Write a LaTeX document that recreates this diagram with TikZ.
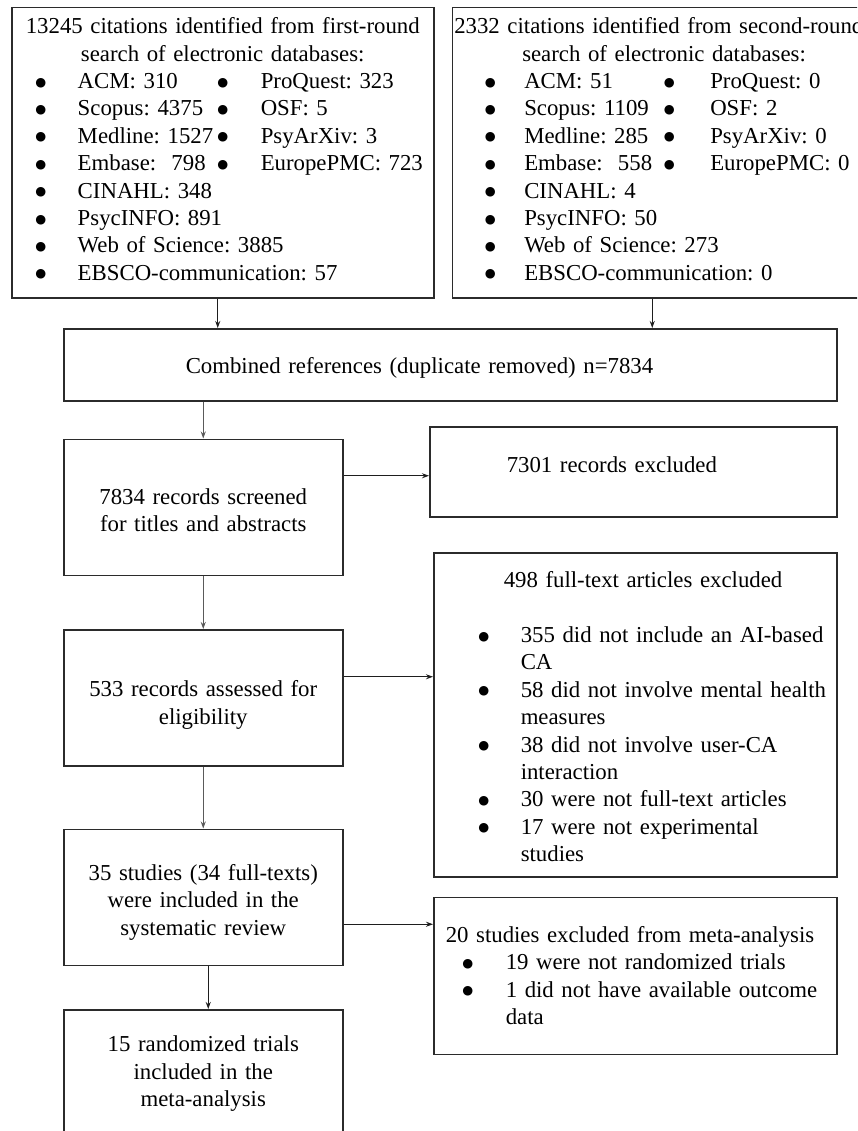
\documentclass[tikz,border=0pt]{standalone}
\usepackage{fontspec}
\setmainfont{Liberation Serif}
\newfontfamily\symfont{DejaVu Sans}
\usetikzlibrary{positioning,arrows.meta}
\definecolor{edge}{HTML}{2B2B2B}
\definecolor{lnk}{HTML}{1E1E1E}
\definecolor{lnkg}{HTML}{5A5A5A}
\frenchspacing
\newcommand{\setat}[2]{\leavevmode\rlap{\hspace*{#1}#2}}
\newcommand{\bulat}[1]{\leavevmode\rlap{\hspace*{#1}\makebox[0pt]{\raisebox{2.5pt}{\symfont\fontsize{12.5}{12.5}\selectfont ●}}}}
\tikzset{
  >={Stealth[length=7pt,width=5pt]},
  box/.style={draw=edge, line width=1.5pt, inner sep=0pt, align=left,
              font=\fontsize{22.8}{27.4}\selectfont},
  cbox/.style={box, align=center},
  l/.style={->, line width=0.9pt, draw=lnk},
  lg/.style={l, draw=lnkg},
}
\begin{document}
\begin{tikzpicture}[x=1pt,y=1pt]
  \useasboundingbox (0,0) rectangle (857,-1131);
  \clip (0,0) rectangle (857,-1131);
  % search rounds
  \node[box,text width=422pt,text height=26pt,text depth=264pt,anchor=north west] (first) at (11,-7) {%
    \makebox[\linewidth]{13245 citations identified from first-round}\\
    \makebox[\linewidth]{search of electronic databases:}\\
    \bulat{29pt}\setat{66pt}{ACM: 310}\bulat{211pt}\setat{249pt}{ProQuest: 323}\\
    \bulat{29pt}\setat{66pt}{Scopus: 4375}\bulat{211pt}\setat{249pt}{OSF: 5}\\
    \bulat{29pt}\setat{66pt}{Medline: 1527}\bulat{211pt}\setat{249pt}{PsyArXiv: 3}\\
    \bulat{29pt}\setat{66pt}{Embase:\ \ 798}\bulat{211pt}\setat{249pt}{EuropePMC: 723}\\
    \bulat{29pt}\setat{66pt}{CINAHL: 348}\\
    \bulat{29pt}\setat{66pt}{PsycINFO: 891}\\
    \bulat{29pt}\setat{66pt}{Web of Science: 3885}\\
    \bulat{29pt}\setat{66pt}{EBSCO-communication: 57}};
  \node[box,text width=422pt,text height=26pt,text depth=264pt,right=17pt of first.north east,anchor=north west] (second) {%
    \setat{2pt}{2332 citations identified from second-round}\\
    \setat{70pt}{search of electronic databases:}\\
    \bulat{38pt}\setat{72pt}{ACM: 51}\bulat{217pt}\setat{258pt}{ProQuest: 0}\\
    \bulat{38pt}\setat{72pt}{Scopus: 1109}\bulat{217pt}\setat{258pt}{OSF: 2}\\
    \bulat{38pt}\setat{72pt}{Medline: 285}\bulat{217pt}\setat{258pt}{PsyArXiv: 0}\\
    \bulat{38pt}\setat{72pt}{Embase:\ \ 558}\bulat{217pt}\setat{258pt}{EuropePMC: 0}\\
    \bulat{38pt}\setat{72pt}{CINAHL: 4}\\
    \bulat{38pt}\setat{72pt}{PsycINFO: 50}\\
    \bulat{38pt}\setat{72pt}{Web of Science: 273}\\
    \bulat{38pt}\setat{72pt}{EBSCO-communication: 0}};
  % main column
  \node[box,text width=773pt,text height=45pt,text depth=27pt,anchor=north west] (comb) at (63,-328)
    {\setat{122pt}{Combined references (duplicate removed) n=7834}};
  \node[cbox,text width=279pt,text height=65pt,text depth=71pt,below=37pt of comb.south west,anchor=north west] (scr)
    {7834 records screened\\for titles and abstracts};
  \node[cbox,text width=279pt,text height=67pt,text depth=69pt,below=53pt of scr] (elig)
    {533 records assessed for\\eligibility};
  \node[cbox,text width=279pt,text height=51pt,text depth=85pt,below=62pt of elig] (incl)
    {35 studies (34 full-texts)\\were included in the\\systematic review};
  \node[cbox,text width=279pt,text height=42pt,text depth=115pt,below=43pt of incl] (meta)
    {15 randomized trials\\included in the\\meta-analysis};
  % exclusions
  \node[box,text width=407pt,text height=46pt,text depth=44pt,anchor=north west] (ex1) at (429,-426)
    {\setat{77pt}{7301 records excluded}};
  \node[box,text width=403pt,text height=35pt,text depth=289pt,anchor=north west] (ex2) at (433,-552) {%
    \setat{70pt}{498 full-text articles excluded}\\[27.4pt]
    \bulat{50pt}\setat{87pt}{355 did not include an AI-based}\\
    \setat{87pt}{CA}\\
    \bulat{50pt}\setat{87pt}{58 did not involve mental health}\\
    \setat{87pt}{measures}\\
    \bulat{50pt}\setat{87pt}{38 did not involve user-CA}\\
    \setat{87pt}{interaction}\\
    \bulat{50pt}\setat{87pt}{30 were not full-text articles}\\
    \bulat{50pt}\setat{87pt}{17 were not experimental}\\
    \setat{87pt}{studies}};
  \node[box,text width=403pt,text height=45pt,text depth=112pt,below=19pt of ex2.south west,anchor=north west] (ex3) {%
    \setat{12pt}{20 studies excluded from meta-analysis}\\
    \bulat{34pt}\setat{72pt}{19 were not randomized trials}\\
    \bulat{34pt}\setat{72pt}{1 did not have available outcome}\\
    \setat{72pt}{data}};
  % links
  \draw[l]([xshift=-5pt]first.south) -- ([xshift=-5pt]first.south |- comb.north);
  \draw[l]([xshift=-11pt]second.south) -- ([xshift=-11pt]second.south |- comb.north);
  \draw[lg](comb.south -| scr.north) -- (scr.north);
  \draw[l]([yshift=-4pt]ex1.west -| scr.east) -- ([yshift=-4pt]ex1.west);
  \draw[lg](scr) -- (elig);
  \draw[l]([yshift=21pt]elig.east) -- ([yshift=21pt]elig.east -| ex2.west);
  \draw[lg](elig) -- (incl);
  \draw[l]([yshift=-27pt]incl.east) -- ([yshift=-27pt]incl.east -| ex3.west);
  \draw[l]([xshift=5pt]incl.south) -- ([xshift=5pt]incl.south |- meta.north);
\end{tikzpicture}
\end{document}
